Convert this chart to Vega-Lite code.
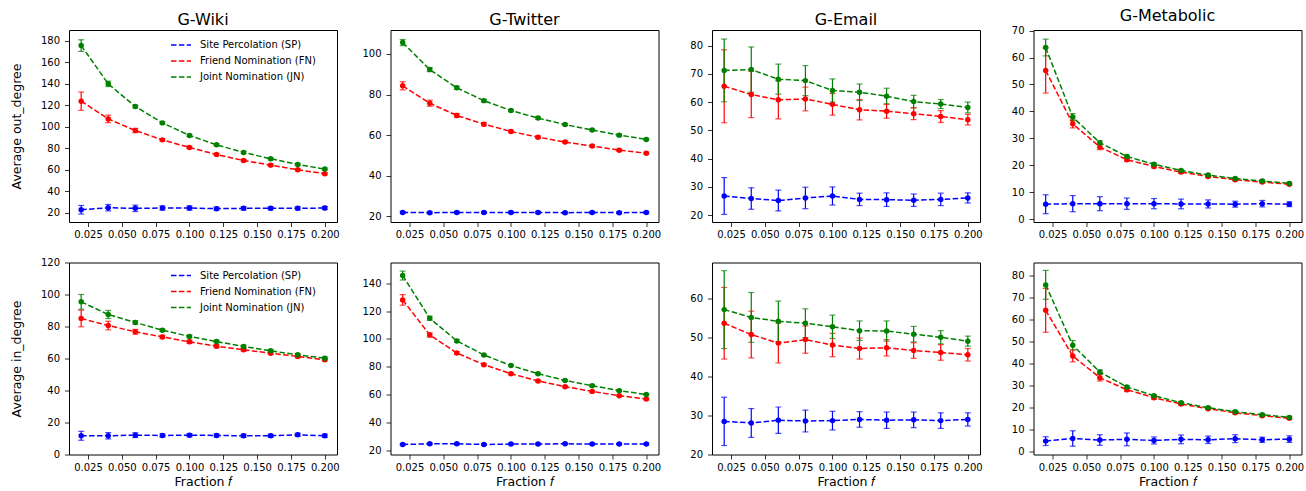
{
  "$schema": "https://vega.github.io/schema/vega-lite/v6.json",
  "padding": {"left": 9, "top": 7, "right": 5, "bottom": 3},
  "background": "white",
  "config": {
    "font": "DejaVu Sans",
    "view": {"stroke": "#000", "strokeWidth": 1},
    "axis": {"domain": false, "grid": false, "tickColor": "#000", "tickSize": 4.5, "tickWidth": 0.8, "labelColor": "#000", "labelFontSize": 10, "titleFontSize": 12.5, "titleFontWeight": "normal", "titleColor": "#000", "labelFont": "DejaVu Sans", "titleFont": "DejaVu Sans"},
    "axisY": {"titlePadding": 17, "labelPadding": 5},
    "axisX": {"titlePadding": 3, "labelPadding": 3},
    "title": {"fontSize": 16, "fontWeight": "normal", "offset": 2, "frame": "group", "color": "#000", "font": "DejaVu Sans"},
    "legend": {"labelColor": "#000", "labelFont": "DejaVu Sans"}
  },
  "data": {"values": [
    {"graph":"G-Wiki","deg":"out","method":"SP","f":0.02,"mean":22.7,"err":4},
    {"graph":"G-Wiki","deg":"out","method":"SP","f":0.04,"mean":24.6,"err":3},
    {"graph":"G-Wiki","deg":"out","method":"SP","f":0.06,"mean":24.0,"err":3},
    {"graph":"G-Wiki","deg":"out","method":"SP","f":0.08,"mean":24.3,"err":2},
    {"graph":"G-Wiki","deg":"out","method":"SP","f":0.1,"mean":24.3,"err":2},
    {"graph":"G-Wiki","deg":"out","method":"SP","f":0.12,"mean":23.7,"err":1.5},
    {"graph":"G-Wiki","deg":"out","method":"SP","f":0.14,"mean":24.0,"err":1.5},
    {"graph":"G-Wiki","deg":"out","method":"SP","f":0.16,"mean":24.0,"err":1.5},
    {"graph":"G-Wiki","deg":"out","method":"SP","f":0.18,"mean":24.0,"err":1.5},
    {"graph":"G-Wiki","deg":"out","method":"SP","f":0.2,"mean":24.3,"err":1.5},
    {"graph":"G-Wiki","deg":"out","method":"FN","f":0.02,"mean":123.7,"err":8.5},
    {"graph":"G-Wiki","deg":"out","method":"FN","f":0.04,"mean":107.2,"err":3.5},
    {"graph":"G-Wiki","deg":"out","method":"FN","f":0.06,"mean":96.4,"err":2},
    {"graph":"G-Wiki","deg":"out","method":"FN","f":0.08,"mean":87.7,"err":1.2},
    {"graph":"G-Wiki","deg":"out","method":"FN","f":0.1,"mean":80.6,"err":1},
    {"graph":"G-Wiki","deg":"out","method":"FN","f":0.12,"mean":74.1,"err":1},
    {"graph":"G-Wiki","deg":"out","method":"FN","f":0.14,"mean":68.5,"err":1},
    {"graph":"G-Wiki","deg":"out","method":"FN","f":0.16,"mean":64.2,"err":1},
    {"graph":"G-Wiki","deg":"out","method":"FN","f":0.18,"mean":59.9,"err":1},
    {"graph":"G-Wiki","deg":"out","method":"FN","f":0.2,"mean":56.2,"err":1},
    {"graph":"G-Wiki","deg":"out","method":"JN","f":0.02,"mean":175.4,"err":5.4},
    {"graph":"G-Wiki","deg":"out","method":"JN","f":0.04,"mean":139.8,"err":2.5},
    {"graph":"G-Wiki","deg":"out","method":"JN","f":0.06,"mean":118.7,"err":1.2},
    {"graph":"G-Wiki","deg":"out","method":"JN","f":0.08,"mean":103.5,"err":1},
    {"graph":"G-Wiki","deg":"out","method":"JN","f":0.1,"mean":91.8,"err":1},
    {"graph":"G-Wiki","deg":"out","method":"JN","f":0.12,"mean":83.1,"err":1},
    {"graph":"G-Wiki","deg":"out","method":"JN","f":0.14,"mean":76.0,"err":1},
    {"graph":"G-Wiki","deg":"out","method":"JN","f":0.16,"mean":70.1,"err":1},
    {"graph":"G-Wiki","deg":"out","method":"JN","f":0.18,"mean":64.8,"err":1},
    {"graph":"G-Wiki","deg":"out","method":"JN","f":0.2,"mean":60.5,"err":1},

    {"graph":"G-Twitter","deg":"out","method":"SP","f":0.02,"mean":21.9,"err":0.5},
    {"graph":"G-Twitter","deg":"out","method":"SP","f":0.04,"mean":21.8,"err":0.5},
    {"graph":"G-Twitter","deg":"out","method":"SP","f":0.06,"mean":21.9,"err":0.5},
    {"graph":"G-Twitter","deg":"out","method":"SP","f":0.08,"mean":21.9,"err":0.5},
    {"graph":"G-Twitter","deg":"out","method":"SP","f":0.1,"mean":21.9,"err":0.5},
    {"graph":"G-Twitter","deg":"out","method":"SP","f":0.12,"mean":21.9,"err":0.5},
    {"graph":"G-Twitter","deg":"out","method":"SP","f":0.14,"mean":21.8,"err":0.5},
    {"graph":"G-Twitter","deg":"out","method":"SP","f":0.16,"mean":21.9,"err":0.5},
    {"graph":"G-Twitter","deg":"out","method":"SP","f":0.18,"mean":21.8,"err":0.5},
    {"graph":"G-Twitter","deg":"out","method":"SP","f":0.2,"mean":21.9,"err":0.5},
    {"graph":"G-Twitter","deg":"out","method":"FN","f":0.02,"mean":84.3,"err":2},
    {"graph":"G-Twitter","deg":"out","method":"FN","f":0.04,"mean":75.7,"err":1.5},
    {"graph":"G-Twitter","deg":"out","method":"FN","f":0.06,"mean":69.7,"err":1},
    {"graph":"G-Twitter","deg":"out","method":"FN","f":0.08,"mean":65.4,"err":0.8},
    {"graph":"G-Twitter","deg":"out","method":"FN","f":0.1,"mean":61.8,"err":0.6},
    {"graph":"G-Twitter","deg":"out","method":"FN","f":0.12,"mean":59.0,"err":0.6},
    {"graph":"G-Twitter","deg":"out","method":"FN","f":0.14,"mean":56.6,"err":0.5},
    {"graph":"G-Twitter","deg":"out","method":"FN","f":0.16,"mean":54.6,"err":0.5},
    {"graph":"G-Twitter","deg":"out","method":"FN","f":0.18,"mean":52.6,"err":0.5},
    {"graph":"G-Twitter","deg":"out","method":"FN","f":0.2,"mean":51.1,"err":0.5},
    {"graph":"G-Twitter","deg":"out","method":"JN","f":0.02,"mean":105.6,"err":1.5},
    {"graph":"G-Twitter","deg":"out","method":"JN","f":0.04,"mean":92.3,"err":1},
    {"graph":"G-Twitter","deg":"out","method":"JN","f":0.06,"mean":83.3,"err":0.8},
    {"graph":"G-Twitter","deg":"out","method":"JN","f":0.08,"mean":77.0,"err":0.6},
    {"graph":"G-Twitter","deg":"out","method":"JN","f":0.1,"mean":72.1,"err":0.5},
    {"graph":"G-Twitter","deg":"out","method":"JN","f":0.12,"mean":68.4,"err":0.5},
    {"graph":"G-Twitter","deg":"out","method":"JN","f":0.14,"mean":65.2,"err":0.5},
    {"graph":"G-Twitter","deg":"out","method":"JN","f":0.16,"mean":62.5,"err":0.5},
    {"graph":"G-Twitter","deg":"out","method":"JN","f":0.18,"mean":60.0,"err":0.5},
    {"graph":"G-Twitter","deg":"out","method":"JN","f":0.2,"mean":57.9,"err":0.5},

    {"graph":"G-Email","deg":"out","method":"SP","f":0.02,"mean":26.8,"err":6.5},
    {"graph":"G-Email","deg":"out","method":"SP","f":0.04,"mean":25.9,"err":3.8},
    {"graph":"G-Email","deg":"out","method":"SP","f":0.06,"mean":25.2,"err":3.7},
    {"graph":"G-Email","deg":"out","method":"SP","f":0.08,"mean":26.1,"err":3.8},
    {"graph":"G-Email","deg":"out","method":"SP","f":0.1,"mean":26.8,"err":3.2},
    {"graph":"G-Email","deg":"out","method":"SP","f":0.12,"mean":25.6,"err":2.2},
    {"graph":"G-Email","deg":"out","method":"SP","f":0.14,"mean":25.5,"err":2.4},
    {"graph":"G-Email","deg":"out","method":"SP","f":0.16,"mean":25.3,"err":2.2},
    {"graph":"G-Email","deg":"out","method":"SP","f":0.18,"mean":25.6,"err":2.2},
    {"graph":"G-Email","deg":"out","method":"SP","f":0.2,"mean":26.1,"err":1.8},
    {"graph":"G-Email","deg":"out","method":"FN","f":0.02,"mean":65.6,"err":12.9},
    {"graph":"G-Email","deg":"out","method":"FN","f":0.04,"mean":62.7,"err":8.2},
    {"graph":"G-Email","deg":"out","method":"FN","f":0.06,"mean":60.8,"err":6.7},
    {"graph":"G-Email","deg":"out","method":"FN","f":0.08,"mean":61.1,"err":4.2},
    {"graph":"G-Email","deg":"out","method":"FN","f":0.1,"mean":59.2,"err":3.8},
    {"graph":"G-Email","deg":"out","method":"FN","f":0.12,"mean":57.3,"err":3.6},
    {"graph":"G-Email","deg":"out","method":"FN","f":0.14,"mean":56.8,"err":2.5},
    {"graph":"G-Email","deg":"out","method":"FN","f":0.16,"mean":55.9,"err":2.1},
    {"graph":"G-Email","deg":"out","method":"FN","f":0.18,"mean":54.9,"err":2.1},
    {"graph":"G-Email","deg":"out","method":"FN","f":0.2,"mean":53.8,"err":1.9},
    {"graph":"G-Email","deg":"out","method":"JN","f":0.02,"mean":71.2,"err":11.1},
    {"graph":"G-Email","deg":"out","method":"JN","f":0.04,"mean":71.5,"err":8},
    {"graph":"G-Email","deg":"out","method":"JN","f":0.06,"mean":68.1,"err":5.3},
    {"graph":"G-Email","deg":"out","method":"JN","f":0.08,"mean":67.6,"err":5.3},
    {"graph":"G-Email","deg":"out","method":"JN","f":0.1,"mean":64.1,"err":4.1},
    {"graph":"G-Email","deg":"out","method":"JN","f":0.12,"mean":63.5,"err":2.9},
    {"graph":"G-Email","deg":"out","method":"JN","f":0.14,"mean":62.1,"err":2.8},
    {"graph":"G-Email","deg":"out","method":"JN","f":0.16,"mean":60.2,"err":2.2},
    {"graph":"G-Email","deg":"out","method":"JN","f":0.18,"mean":59.3,"err":1.6},
    {"graph":"G-Email","deg":"out","method":"JN","f":0.2,"mean":58.1,"err":1.9},

    {"graph":"G-Metabolic","deg":"out","method":"SP","f":0.02,"mean":5.6,"err":3.5},
    {"graph":"G-Metabolic","deg":"out","method":"SP","f":0.04,"mean":5.8,"err":3},
    {"graph":"G-Metabolic","deg":"out","method":"SP","f":0.06,"mean":5.8,"err":2.6},
    {"graph":"G-Metabolic","deg":"out","method":"SP","f":0.08,"mean":5.8,"err":2.1},
    {"graph":"G-Metabolic","deg":"out","method":"SP","f":0.1,"mean":5.8,"err":1.9},
    {"graph":"G-Metabolic","deg":"out","method":"SP","f":0.12,"mean":5.7,"err":1.8},
    {"graph":"G-Metabolic","deg":"out","method":"SP","f":0.14,"mean":5.7,"err":1.5},
    {"graph":"G-Metabolic","deg":"out","method":"SP","f":0.16,"mean":5.6,"err":1.1},
    {"graph":"G-Metabolic","deg":"out","method":"SP","f":0.18,"mean":5.8,"err":1.2},
    {"graph":"G-Metabolic","deg":"out","method":"SP","f":0.2,"mean":5.6,"err":0.9},
    {"graph":"G-Metabolic","deg":"out","method":"FN","f":0.02,"mean":55.2,"err":8.4},
    {"graph":"G-Metabolic","deg":"out","method":"FN","f":0.04,"mean":35.4,"err":1.5},
    {"graph":"G-Metabolic","deg":"out","method":"FN","f":0.06,"mean":26.8,"err":1},
    {"graph":"G-Metabolic","deg":"out","method":"FN","f":0.08,"mean":22.1,"err":0.6},
    {"graph":"G-Metabolic","deg":"out","method":"FN","f":0.1,"mean":19.6,"err":0.5},
    {"graph":"G-Metabolic","deg":"out","method":"FN","f":0.12,"mean":17.5,"err":0.5},
    {"graph":"G-Metabolic","deg":"out","method":"FN","f":0.14,"mean":15.9,"err":0.4},
    {"graph":"G-Metabolic","deg":"out","method":"FN","f":0.16,"mean":14.7,"err":0.4},
    {"graph":"G-Metabolic","deg":"out","method":"FN","f":0.18,"mean":13.8,"err":0.4},
    {"graph":"G-Metabolic","deg":"out","method":"FN","f":0.2,"mean":13.0,"err":0.4},
    {"graph":"G-Metabolic","deg":"out","method":"JN","f":0.02,"mean":63.7,"err":3.1},
    {"graph":"G-Metabolic","deg":"out","method":"JN","f":0.04,"mean":37.9,"err":1.3},
    {"graph":"G-Metabolic","deg":"out","method":"JN","f":0.06,"mean":28.4,"err":0.7},
    {"graph":"G-Metabolic","deg":"out","method":"JN","f":0.08,"mean":23.3,"err":0.5},
    {"graph":"G-Metabolic","deg":"out","method":"JN","f":0.1,"mean":20.4,"err":0.5},
    {"graph":"G-Metabolic","deg":"out","method":"JN","f":0.12,"mean":18.1,"err":0.4},
    {"graph":"G-Metabolic","deg":"out","method":"JN","f":0.14,"mean":16.4,"err":0.4},
    {"graph":"G-Metabolic","deg":"out","method":"JN","f":0.16,"mean":15.1,"err":0.4},
    {"graph":"G-Metabolic","deg":"out","method":"JN","f":0.18,"mean":14.2,"err":0.4},
    {"graph":"G-Metabolic","deg":"out","method":"JN","f":0.2,"mean":13.3,"err":0.4},

    {"graph":"G-Wiki","deg":"in","method":"SP","f":0.02,"mean":11.7,"err":2.8},
    {"graph":"G-Wiki","deg":"in","method":"SP","f":0.04,"mean":11.7,"err":2},
    {"graph":"G-Wiki","deg":"in","method":"SP","f":0.06,"mean":12.1,"err":1.5},
    {"graph":"G-Wiki","deg":"in","method":"SP","f":0.08,"mean":11.9,"err":1},
    {"graph":"G-Wiki","deg":"in","method":"SP","f":0.1,"mean":12.1,"err":1},
    {"graph":"G-Wiki","deg":"in","method":"SP","f":0.12,"mean":11.9,"err":1},
    {"graph":"G-Wiki","deg":"in","method":"SP","f":0.14,"mean":11.7,"err":1},
    {"graph":"G-Wiki","deg":"in","method":"SP","f":0.16,"mean":11.7,"err":1},
    {"graph":"G-Wiki","deg":"in","method":"SP","f":0.18,"mean":12.3,"err":1},
    {"graph":"G-Wiki","deg":"in","method":"SP","f":0.2,"mean":11.7,"err":1},
    {"graph":"G-Wiki","deg":"in","method":"FN","f":0.02,"mean":85.0,"err":5.2},
    {"graph":"G-Wiki","deg":"in","method":"FN","f":0.04,"mean":80.6,"err":2.7},
    {"graph":"G-Wiki","deg":"in","method":"FN","f":0.06,"mean":76.7,"err":1.5},
    {"graph":"G-Wiki","deg":"in","method":"FN","f":0.08,"mean":73.5,"err":1},
    {"graph":"G-Wiki","deg":"in","method":"FN","f":0.1,"mean":70.4,"err":1},
    {"graph":"G-Wiki","deg":"in","method":"FN","f":0.12,"mean":67.7,"err":1},
    {"graph":"G-Wiki","deg":"in","method":"FN","f":0.14,"mean":65.4,"err":0.8},
    {"graph":"G-Wiki","deg":"in","method":"FN","f":0.16,"mean":63.3,"err":0.8},
    {"graph":"G-Wiki","deg":"in","method":"FN","f":0.18,"mean":61.3,"err":0.8},
    {"graph":"G-Wiki","deg":"in","method":"FN","f":0.2,"mean":59.2,"err":0.8},
    {"graph":"G-Wiki","deg":"in","method":"JN","f":0.02,"mean":95.4,"err":4.6},
    {"graph":"G-Wiki","deg":"in","method":"JN","f":0.04,"mean":87.5,"err":2.5},
    {"graph":"G-Wiki","deg":"in","method":"JN","f":0.06,"mean":82.5,"err":1.2},
    {"graph":"G-Wiki","deg":"in","method":"JN","f":0.08,"mean":77.7,"err":0.8},
    {"graph":"G-Wiki","deg":"in","method":"JN","f":0.1,"mean":73.8,"err":0.8},
    {"graph":"G-Wiki","deg":"in","method":"JN","f":0.12,"mean":70.6,"err":0.8},
    {"graph":"G-Wiki","deg":"in","method":"JN","f":0.14,"mean":67.5,"err":0.8},
    {"graph":"G-Wiki","deg":"in","method":"JN","f":0.16,"mean":64.8,"err":0.8},
    {"graph":"G-Wiki","deg":"in","method":"JN","f":0.18,"mean":62.3,"err":0.8},
    {"graph":"G-Wiki","deg":"in","method":"JN","f":0.2,"mean":60.2,"err":0.8},

    {"graph":"G-Twitter","deg":"in","method":"SP","f":0.02,"mean":24.0,"err":0.5},
    {"graph":"G-Twitter","deg":"in","method":"SP","f":0.04,"mean":24.5,"err":0.5},
    {"graph":"G-Twitter","deg":"in","method":"SP","f":0.06,"mean":24.5,"err":0.5},
    {"graph":"G-Twitter","deg":"in","method":"SP","f":0.08,"mean":24.0,"err":0.5},
    {"graph":"G-Twitter","deg":"in","method":"SP","f":0.1,"mean":24.3,"err":0.5},
    {"graph":"G-Twitter","deg":"in","method":"SP","f":0.12,"mean":24.3,"err":0.5},
    {"graph":"G-Twitter","deg":"in","method":"SP","f":0.14,"mean":24.5,"err":0.5},
    {"graph":"G-Twitter","deg":"in","method":"SP","f":0.16,"mean":24.3,"err":0.5},
    {"graph":"G-Twitter","deg":"in","method":"SP","f":0.18,"mean":24.3,"err":0.5},
    {"graph":"G-Twitter","deg":"in","method":"SP","f":0.2,"mean":24.3,"err":0.5},
    {"graph":"G-Twitter","deg":"in","method":"FN","f":0.02,"mean":128.0,"err":3.8},
    {"graph":"G-Twitter","deg":"in","method":"FN","f":0.04,"mean":102.8,"err":1.5},
    {"graph":"G-Twitter","deg":"in","method":"FN","f":0.06,"mean":89.8,"err":1},
    {"graph":"G-Twitter","deg":"in","method":"FN","f":0.08,"mean":81.4,"err":0.8},
    {"graph":"G-Twitter","deg":"in","method":"FN","f":0.1,"mean":74.9,"err":0.6},
    {"graph":"G-Twitter","deg":"in","method":"FN","f":0.12,"mean":69.7,"err":0.6},
    {"graph":"G-Twitter","deg":"in","method":"FN","f":0.14,"mean":65.6,"err":0.6},
    {"graph":"G-Twitter","deg":"in","method":"FN","f":0.16,"mean":62.2,"err":0.6},
    {"graph":"G-Twitter","deg":"in","method":"FN","f":0.18,"mean":59.1,"err":0.6},
    {"graph":"G-Twitter","deg":"in","method":"FN","f":0.2,"mean":56.7,"err":0.6},
    {"graph":"G-Twitter","deg":"in","method":"JN","f":0.02,"mean":145.5,"err":3.2},
    {"graph":"G-Twitter","deg":"in","method":"JN","f":0.04,"mean":114.8,"err":1.5},
    {"graph":"G-Twitter","deg":"in","method":"JN","f":0.06,"mean":98.5,"err":1},
    {"graph":"G-Twitter","deg":"in","method":"JN","f":0.08,"mean":88.4,"err":0.7},
    {"graph":"G-Twitter","deg":"in","method":"JN","f":0.1,"mean":80.8,"err":0.6},
    {"graph":"G-Twitter","deg":"in","method":"JN","f":0.12,"mean":74.9,"err":0.6},
    {"graph":"G-Twitter","deg":"in","method":"JN","f":0.14,"mean":70.1,"err":0.6},
    {"graph":"G-Twitter","deg":"in","method":"JN","f":0.16,"mean":66.3,"err":0.6},
    {"graph":"G-Twitter","deg":"in","method":"JN","f":0.18,"mean":62.7,"err":0.6},
    {"graph":"G-Twitter","deg":"in","method":"JN","f":0.2,"mean":60.0,"err":0.6},

    {"graph":"G-Email","deg":"in","method":"SP","f":0.02,"mean":28.5,"err":6.2},
    {"graph":"G-Email","deg":"in","method":"SP","f":0.04,"mean":28.1,"err":3.7},
    {"graph":"G-Email","deg":"in","method":"SP","f":0.06,"mean":28.8,"err":3.4},
    {"graph":"G-Email","deg":"in","method":"SP","f":0.08,"mean":28.6,"err":2.8},
    {"graph":"G-Email","deg":"in","method":"SP","f":0.1,"mean":28.7,"err":2.4},
    {"graph":"G-Email","deg":"in","method":"SP","f":0.12,"mean":29.0,"err":2.0},
    {"graph":"G-Email","deg":"in","method":"SP","f":0.14,"mean":28.8,"err":2.1},
    {"graph":"G-Email","deg":"in","method":"SP","f":0.16,"mean":28.9,"err":2.0},
    {"graph":"G-Email","deg":"in","method":"SP","f":0.18,"mean":28.7,"err":2.0},
    {"graph":"G-Email","deg":"in","method":"SP","f":0.2,"mean":29.0,"err":1.7},
    {"graph":"G-Email","deg":"in","method":"FN","f":0.02,"mean":53.7,"err":9.2},
    {"graph":"G-Email","deg":"in","method":"FN","f":0.04,"mean":50.8,"err":6.0},
    {"graph":"G-Email","deg":"in","method":"FN","f":0.06,"mean":48.6,"err":5.1},
    {"graph":"G-Email","deg":"in","method":"FN","f":0.08,"mean":49.5,"err":3.5},
    {"graph":"G-Email","deg":"in","method":"FN","f":0.1,"mean":48.1,"err":3.0},
    {"graph":"G-Email","deg":"in","method":"FN","f":0.12,"mean":47.2,"err":2.7},
    {"graph":"G-Email","deg":"in","method":"FN","f":0.14,"mean":47.4,"err":2.1},
    {"graph":"G-Email","deg":"in","method":"FN","f":0.16,"mean":46.7,"err":2.0},
    {"graph":"G-Email","deg":"in","method":"FN","f":0.18,"mean":46.2,"err":2.0},
    {"graph":"G-Email","deg":"in","method":"FN","f":0.2,"mean":45.6,"err":1.6},
    {"graph":"G-Email","deg":"in","method":"JN","f":0.02,"mean":57.2,"err":10},
    {"graph":"G-Email","deg":"in","method":"JN","f":0.04,"mean":55.2,"err":6.4},
    {"graph":"G-Email","deg":"in","method":"JN","f":0.06,"mean":54.2,"err":5.2},
    {"graph":"G-Email","deg":"in","method":"JN","f":0.08,"mean":53.7,"err":3.7},
    {"graph":"G-Email","deg":"in","method":"JN","f":0.1,"mean":52.8,"err":3.0},
    {"graph":"G-Email","deg":"in","method":"JN","f":0.12,"mean":51.8,"err":2.5},
    {"graph":"G-Email","deg":"in","method":"JN","f":0.14,"mean":51.7,"err":2.6},
    {"graph":"G-Email","deg":"in","method":"JN","f":0.16,"mean":50.9,"err":2.0},
    {"graph":"G-Email","deg":"in","method":"JN","f":0.18,"mean":50.1,"err":1.7},
    {"graph":"G-Email","deg":"in","method":"JN","f":0.2,"mean":49.1,"err":1.3},

    {"graph":"G-Metabolic","deg":"in","method":"SP","f":0.02,"mean":4.7,"err":2},
    {"graph":"G-Metabolic","deg":"in","method":"SP","f":0.04,"mean":5.9,"err":3.5},
    {"graph":"G-Metabolic","deg":"in","method":"SP","f":0.06,"mean":5.2,"err":2.4},
    {"graph":"G-Metabolic","deg":"in","method":"SP","f":0.08,"mean":5.5,"err":2.9},
    {"graph":"G-Metabolic","deg":"in","method":"SP","f":0.1,"mean":5.0,"err":1.6},
    {"graph":"G-Metabolic","deg":"in","method":"SP","f":0.12,"mean":5.5,"err":2},
    {"graph":"G-Metabolic","deg":"in","method":"SP","f":0.14,"mean":5.3,"err":1.7},
    {"graph":"G-Metabolic","deg":"in","method":"SP","f":0.16,"mean":5.8,"err":1.8},
    {"graph":"G-Metabolic","deg":"in","method":"SP","f":0.18,"mean":5.3,"err":1.2},
    {"graph":"G-Metabolic","deg":"in","method":"SP","f":0.2,"mean":5.6,"err":1.5},
    {"graph":"G-Metabolic","deg":"in","method":"FN","f":0.02,"mean":64.3,"err":10},
    {"graph":"G-Metabolic","deg":"in","method":"FN","f":0.04,"mean":43.5,"err":2.7},
    {"graph":"G-Metabolic","deg":"in","method":"FN","f":0.06,"mean":33.6,"err":1.5},
    {"graph":"G-Metabolic","deg":"in","method":"FN","f":0.08,"mean":28.1,"err":0.8},
    {"graph":"G-Metabolic","deg":"in","method":"FN","f":0.1,"mean":24.5,"err":0.7},
    {"graph":"G-Metabolic","deg":"in","method":"FN","f":0.12,"mean":21.6,"err":0.6},
    {"graph":"G-Metabolic","deg":"in","method":"FN","f":0.14,"mean":19.5,"err":0.5},
    {"graph":"G-Metabolic","deg":"in","method":"FN","f":0.16,"mean":17.6,"err":0.5},
    {"graph":"G-Metabolic","deg":"in","method":"FN","f":0.18,"mean":16.3,"err":0.5},
    {"graph":"G-Metabolic","deg":"in","method":"FN","f":0.2,"mean":15.1,"err":0.5},
    {"graph":"G-Metabolic","deg":"in","method":"JN","f":0.02,"mean":75.9,"err":6.6},
    {"graph":"G-Metabolic","deg":"in","method":"JN","f":0.04,"mean":48.4,"err":2.1},
    {"graph":"G-Metabolic","deg":"in","method":"JN","f":0.06,"mean":36.2,"err":1},
    {"graph":"G-Metabolic","deg":"in","method":"JN","f":0.08,"mean":29.4,"err":0.6},
    {"graph":"G-Metabolic","deg":"in","method":"JN","f":0.1,"mean":25.4,"err":0.5},
    {"graph":"G-Metabolic","deg":"in","method":"JN","f":0.12,"mean":22.2,"err":0.5},
    {"graph":"G-Metabolic","deg":"in","method":"JN","f":0.14,"mean":19.9,"err":0.5},
    {"graph":"G-Metabolic","deg":"in","method":"JN","f":0.16,"mean":18.1,"err":0.5},
    {"graph":"G-Metabolic","deg":"in","method":"JN","f":0.18,"mean":16.7,"err":0.5},
    {"graph":"G-Metabolic","deg":"in","method":"JN","f":0.2,"mean":15.5,"err":0.5}
  ]},
  "columns": 4,
  "spacing": {"row": 40.5, "column": 53.5},
  "bounds": "flush",
  "resolve": {"legend": {"color": "independent"}, "scale": {"y": "independent", "color": "independent"}},
  "concat": [
    {
      "width": 268, "height": 192, "title": "G-Wiki",
      "transform": [{"filter": "datum.graph == 'G-Wiki' && datum.deg == 'out'"}],
      "encoding": {
        "x": {"field": "f", "type": "quantitative", "scale": {"domain": [0.011, 0.209], "nice": false, "zero": false}, "axis": {"values": [0.025, 0.05, 0.075, 0.1, 0.125, 0.15, 0.175, 0.2], "format": ".3f", "title": null}},
        "y": {"field": "mean", "type": "quantitative", "scale": {"domain": [11.3, 189.9], "nice": false, "zero": false}, "axis": {"values": [20, 40, 60, 80, 100, 120, 140, 160, 180], "title": "Average out_degree"}},
        "color": {"field": "method", "type": "nominal", "scale": {"domain": ["SP", "FN", "JN"], "range": ["#0000ff", "#ff0000", "#008000"]}, "legend": {"orient": "none", "legendX": 101, "legendY": 4, "title": null, "symbolType": "stroke", "symbolDash": [5.5, 2.4], "symbolStrokeWidth": 1.5, "symbolSize": 400, "symbolOpacity": 1, "labelFontSize": 10, "labelOffset": 8, "rowPadding": -6.5, "labelExpr": "datum.label == 'SP' ? 'Site Percolation (SP)' : datum.label == 'FN' ? 'Friend Nomination (FN)' : 'Joint Nomination (JN)'"}}
      },
      "layer": [
        {"mark": {"type": "errorbar", "ticks": {"size": 6}, "thickness": 1.2}, "encoding": {"yError": {"field": "err"}}},
        {"mark": {"type": "line", "strokeDash": [5.5, 2.4], "strokeWidth": 1.5}},
        {"mark": {"type": "point", "filled": true, "size": 30, "opacity": 1}}
      ]
    },
    {
      "width": 268, "height": 192, "title": "G-Twitter",
      "transform": [{"filter": "datum.graph == 'G-Twitter' && datum.deg == 'out'"}],
      "encoding": {
        "x": {"field": "f", "type": "quantitative", "scale": {"domain": [0.011, 0.209], "nice": false, "zero": false}, "axis": {"values": [0.025, 0.05, 0.075, 0.1, 0.125, 0.15, 0.175, 0.2], "format": ".3f", "title": null}},
        "y": {"field": "mean", "type": "quantitative", "scale": {"domain": [17.2, 111.8], "nice": false, "zero": false}, "axis": {"values": [20, 40, 60, 80, 100], "title": null}},
        "color": {"field": "method", "type": "nominal", "scale": {"domain": ["SP", "FN", "JN"], "range": ["#0000ff", "#ff0000", "#008000"]}, "legend": null}
      },
      "layer": [
        {"mark": {"type": "errorbar", "ticks": {"size": 6}, "thickness": 1.2}, "encoding": {"yError": {"field": "err"}}},
        {"mark": {"type": "line", "strokeDash": [5.5, 2.4], "strokeWidth": 1.5}},
        {"mark": {"type": "point", "filled": true, "size": 30, "opacity": 1}}
      ]
    },
    {
      "width": 268, "height": 192, "title": "G-Email",
      "transform": [{"filter": "datum.graph == 'G-Email' && datum.deg == 'out'"}],
      "encoding": {
        "x": {"field": "f", "type": "quantitative", "scale": {"domain": [0.011, 0.209], "nice": false, "zero": false}, "axis": {"values": [0.025, 0.05, 0.075, 0.1, 0.125, 0.15, 0.175, 0.2], "format": ".3f", "title": null}},
        "y": {"field": "mean", "type": "quantitative", "scale": {"domain": [17.6, 85.5], "nice": false, "zero": false}, "axis": {"values": [20, 30, 40, 50, 60, 70, 80], "title": null}},
        "color": {"field": "method", "type": "nominal", "scale": {"domain": ["SP", "FN", "JN"], "range": ["#0000ff", "#ff0000", "#008000"]}, "legend": null}
      },
      "layer": [
        {"mark": {"type": "errorbar", "ticks": {"size": 6}, "thickness": 1.2}, "encoding": {"yError": {"field": "err"}}},
        {"mark": {"type": "line", "strokeDash": [5.5, 2.4], "strokeWidth": 1.5}},
        {"mark": {"type": "point", "filled": true, "size": 30, "opacity": 1}}
      ]
    },
    {
      "width": 268, "height": 192, "title": "G-Metabolic",
      "transform": [{"filter": "datum.graph == 'G-Metabolic' && datum.deg == 'out'"}],
      "encoding": {
        "x": {"field": "f", "type": "quantitative", "scale": {"domain": [0.011, 0.209], "nice": false, "zero": false}, "axis": {"values": [0.025, 0.05, 0.075, 0.1, 0.125, 0.15, 0.175, 0.2], "format": ".3f", "title": null}},
        "y": {"field": "mean", "type": "quantitative", "scale": {"domain": [-1.0, 70.2], "nice": false, "zero": false}, "axis": {"values": [0, 10, 20, 30, 40, 50, 60, 70], "title": null}},
        "color": {"field": "method", "type": "nominal", "scale": {"domain": ["SP", "FN", "JN"], "range": ["#0000ff", "#ff0000", "#008000"]}, "legend": null}
      },
      "layer": [
        {"mark": {"type": "errorbar", "ticks": {"size": 6}, "thickness": 1.2}, "encoding": {"yError": {"field": "err"}}},
        {"mark": {"type": "line", "strokeDash": [5.5, 2.4], "strokeWidth": 1.5}},
        {"mark": {"type": "point", "filled": true, "size": 30, "opacity": 1}}
      ]
    },
    {
      "width": 268, "height": 192,
      "transform": [{"filter": "datum.graph == 'G-Wiki' && datum.deg == 'in'"}],
      "encoding": {
        "x": {"field": "f", "type": "quantitative", "scale": {"domain": [0.011, 0.209], "nice": false, "zero": false}, "axis": {"values": [0.025, 0.05, 0.075, 0.1, 0.125, 0.15, 0.175, 0.2], "format": ".3f", "title": "Fraction 𝑓"}},
        "y": {"field": "mean", "type": "quantitative", "scale": {"domain": [0, 120], "nice": false, "zero": false}, "axis": {"values": [0, 20, 40, 60, 80, 100, 120], "title": "Average in_degree"}},
        "color": {"field": "method", "type": "nominal", "scale": {"domain": ["SP", "FN", "JN"], "range": ["#0000ff", "#ff0000", "#008000"]}, "legend": {"orient": "none", "legendX": 101, "legendY": 2, "title": null, "symbolType": "stroke", "symbolDash": [5.5, 2.4], "symbolStrokeWidth": 1.5, "symbolSize": 400, "symbolOpacity": 1, "labelFontSize": 10, "labelOffset": 8, "rowPadding": -6.5, "labelExpr": "datum.label == 'SP' ? 'Site Percolation (SP)' : datum.label == 'FN' ? 'Friend Nomination (FN)' : 'Joint Nomination (JN)'"}}
      },
      "layer": [
        {"mark": {"type": "errorbar", "ticks": {"size": 6}, "thickness": 1.2}, "encoding": {"yError": {"field": "err"}}},
        {"mark": {"type": "line", "strokeDash": [5.5, 2.4], "strokeWidth": 1.5}},
        {"mark": {"type": "point", "filled": true, "size": 30, "opacity": 1}}
      ]
    },
    {
      "width": 268, "height": 192,
      "transform": [{"filter": "datum.graph == 'G-Twitter' && datum.deg == 'in'"}],
      "encoding": {
        "x": {"field": "f", "type": "quantitative", "scale": {"domain": [0.011, 0.209], "nice": false, "zero": false}, "axis": {"values": [0.025, 0.05, 0.075, 0.1, 0.125, 0.15, 0.175, 0.2], "format": ".3f", "title": "Fraction 𝑓"}},
        "y": {"field": "mean", "type": "quantitative", "scale": {"domain": [16.8, 154.9], "nice": false, "zero": false}, "axis": {"values": [20, 40, 60, 80, 100, 120, 140], "title": null}},
        "color": {"field": "method", "type": "nominal", "scale": {"domain": ["SP", "FN", "JN"], "range": ["#0000ff", "#ff0000", "#008000"]}, "legend": null}
      },
      "layer": [
        {"mark": {"type": "errorbar", "ticks": {"size": 6}, "thickness": 1.2}, "encoding": {"yError": {"field": "err"}}},
        {"mark": {"type": "line", "strokeDash": [5.5, 2.4], "strokeWidth": 1.5}},
        {"mark": {"type": "point", "filled": true, "size": 30, "opacity": 1}}
      ]
    },
    {
      "width": 268, "height": 192,
      "transform": [{"filter": "datum.graph == 'G-Email' && datum.deg == 'in'"}],
      "encoding": {
        "x": {"field": "f", "type": "quantitative", "scale": {"domain": [0.011, 0.209], "nice": false, "zero": false}, "axis": {"values": [0.025, 0.05, 0.075, 0.1, 0.125, 0.15, 0.175, 0.2], "format": ".3f", "title": "Fraction 𝑓"}},
        "y": {"field": "mean", "type": "quantitative", "scale": {"domain": [20, 69.3], "nice": false, "zero": false}, "axis": {"values": [20, 30, 40, 50, 60], "title": null}},
        "color": {"field": "method", "type": "nominal", "scale": {"domain": ["SP", "FN", "JN"], "range": ["#0000ff", "#ff0000", "#008000"]}, "legend": null}
      },
      "layer": [
        {"mark": {"type": "errorbar", "ticks": {"size": 6}, "thickness": 1.2}, "encoding": {"yError": {"field": "err"}}},
        {"mark": {"type": "line", "strokeDash": [5.5, 2.4], "strokeWidth": 1.5}},
        {"mark": {"type": "point", "filled": true, "size": 30, "opacity": 1}}
      ]
    },
    {
      "width": 268, "height": 192,
      "transform": [{"filter": "datum.graph == 'G-Metabolic' && datum.deg == 'in'"}],
      "encoding": {
        "x": {"field": "f", "type": "quantitative", "scale": {"domain": [0.011, 0.209], "nice": false, "zero": false}, "axis": {"values": [0.025, 0.05, 0.075, 0.1, 0.125, 0.15, 0.175, 0.2], "format": ".3f", "title": "Fraction 𝑓"}},
        "y": {"field": "mean", "type": "quantitative", "scale": {"domain": [-1.4, 86.1], "nice": false, "zero": false}, "axis": {"values": [0, 10, 20, 30, 40, 50, 60, 70, 80], "title": null}},
        "color": {"field": "method", "type": "nominal", "scale": {"domain": ["SP", "FN", "JN"], "range": ["#0000ff", "#ff0000", "#008000"]}, "legend": null}
      },
      "layer": [
        {"mark": {"type": "errorbar", "ticks": {"size": 6}, "thickness": 1.2}, "encoding": {"yError": {"field": "err"}}},
        {"mark": {"type": "line", "strokeDash": [5.5, 2.4], "strokeWidth": 1.5}},
        {"mark": {"type": "point", "filled": true, "size": 30, "opacity": 1}}
      ]
    }
  ]
}
